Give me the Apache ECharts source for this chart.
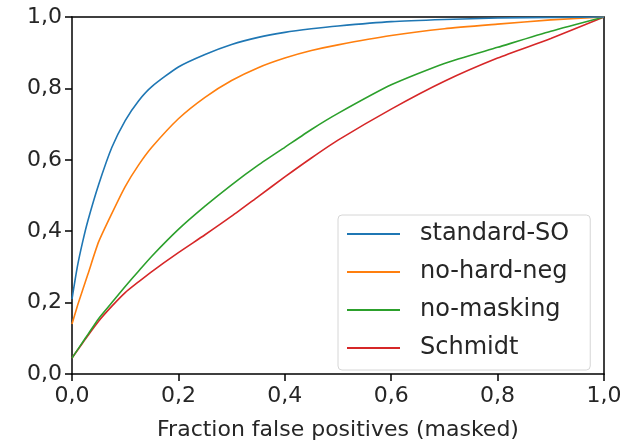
<!DOCTYPE html>
<html>
<head>
<meta charset="utf-8">
<script src="https://cdn.jsdelivr.net/npm/echarts@6/dist/echarts.min.js"></script>
<style>
  html, body { margin: 0; padding: 0; background: #fff; }
  #chart { width: 631px; height: 446px; }
</style>
</head>
<body>
<div id="chart"></div>
<script>
// false positive rate grid shared by all curves
var fpr = [0, 0.01, 0.02, 0.03, 0.05, 0.075, 0.1, 0.125, 0.15, 0.2, 0.25, 0.3, 0.35, 0.4, 0.45, 0.5, 0.6, 0.7, 0.8, 0.9, 1.0];

var names = ['standard-SO', 'no-hard-neg', 'no-masking', 'Schmidt'];
var colors = ['#1f77b4', '#ff7f0e', '#2ca02c', '#d62728'];

var standardSO = [0.21, 0.30, 0.37, 0.43, 0.53, 0.635, 0.71, 0.765, 0.805, 0.86, 0.895, 0.923, 0.943, 0.957, 0.967, 0.975, 0.987, 0.993, 0.997, 0.999, 1.0];
var noHardNeg  = [0.14, 0.19, 0.235, 0.28, 0.37, 0.45, 0.525, 0.585, 0.635, 0.715, 0.775, 0.822, 0.858, 0.885, 0.906, 0.922, 0.948, 0.967, 0.98, 0.992, 1.0];
var noMasking  = [0.045, 0.067, 0.089, 0.111, 0.155, 0.2, 0.245, 0.288, 0.33, 0.405, 0.47, 0.53, 0.585, 0.635, 0.685, 0.73, 0.81, 0.87, 0.915, 0.96, 1.0];
var schmidt    = [0.045, 0.066, 0.087, 0.108, 0.148, 0.19, 0.228, 0.258, 0.287, 0.34, 0.39, 0.442, 0.497, 0.552, 0.605, 0.655, 0.742, 0.82, 0.885, 0.94, 1.0];

var yTicks = [0, 0.2, 0.4, 0.6, 0.8, 1.0];

function pairs(ys) {
    var out = [];
    for (var i = 0; i < fpr.length; i++) {
        out.push([fpr[i], ys[i]]);
    }
    return out;
}

function fmt(v) {
    return v.toFixed(1).replace('.', ',');
}

var allSeries = [standardSO, noHardNeg, noMasking, schmidt];

var myChart = echarts.init(document.getElementById('chart'));
var textColor = '#262626';
var font = 'DejaVu Sans';

var option = {
    animation: false,
    grid: {
        left: 72,
        right: 27,
        top: 17,
        bottom: 61
    },
    legend: {
        orient: 'vertical',
        left: 338,
        top: 215,
        data: names,
        icon: 'rect',
        itemWidth: 53,
        itemHeight: 2,
        itemGap: 14,
        padding: [7, 21, 10, 9],
        backgroundColor: '#fff',
        borderColor: '#d6d6d6',
        borderWidth: 1,
        borderRadius: 4,
        textStyle: {
            color: textColor,
            fontFamily: font,
            fontSize: 24,
            padding: [0, 0, 0, 15]
        }
    },
    xAxis: [{
        type: 'value',
        min: 0,
        max: 1,
        interval: 0.2,
        name: 'Fraction false positives (masked)',
        nameLocation: 'middle',
        nameGap: 45,
        nameTextStyle: {
            color: textColor,
            fontFamily: font,
            fontSize: 22
        },
        axisLine: { show: true, lineStyle: { color: '#000', width: 1.5 } },
        axisTick: { show: true, length: 7, lineStyle: { color: '#000', width: 1.5 } },
        axisLabel: {
            color: textColor,
            fontFamily: font,
            fontSize: 22,
            margin: 11,
            formatter: fmt
        },
        splitLine: { show: false }
    }, {
        type: 'value',
        position: 'top',
        min: 0,
        max: 1,
        axisLine: { show: true, onZero: false, lineStyle: { color: '#000', width: 1.5 } },
        axisTick: { show: false },
        axisLabel: { show: false },
        splitLine: { show: false }
    }],
    yAxis: [{
        type: 'value',
        min: 0,
        max: 1,
        interval: 0.2,
        axisLine: { show: true, lineStyle: { color: '#000', width: 1.5 } },
        axisTick: { show: true, length: 7, lineStyle: { color: '#000', width: 1.5 } },
        axisLabel: {
            color: textColor,
            fontFamily: font,
            fontSize: 22,
            margin: 10,
            formatter: function (v) {
                return yTicks.indexOf(+v.toFixed(1)) >= 0 ? fmt(v) : '';
            }
        },
        splitLine: { show: false }
    }, {
        type: 'value',
        position: 'right',
        min: 0,
        max: 1,
        axisLine: { show: true, onZero: false, lineStyle: { color: '#000', width: 1.5 } },
        axisTick: { show: false },
        axisLabel: { show: false },
        splitLine: { show: false }
    }],
    series: names.map(function (n, i) {
        return {
            name: n,
            type: 'line',
            data: pairs(allSeries[i]),
            smooth: 0.2,
            showSymbol: false,
            symbol: 'none',
            color: colors[i],
            lineStyle: { width: 1.6, color: colors[i] },
            z: 10 - i
        };
    })
};

myChart.setOption(option);
</script>
</body>
</html>
